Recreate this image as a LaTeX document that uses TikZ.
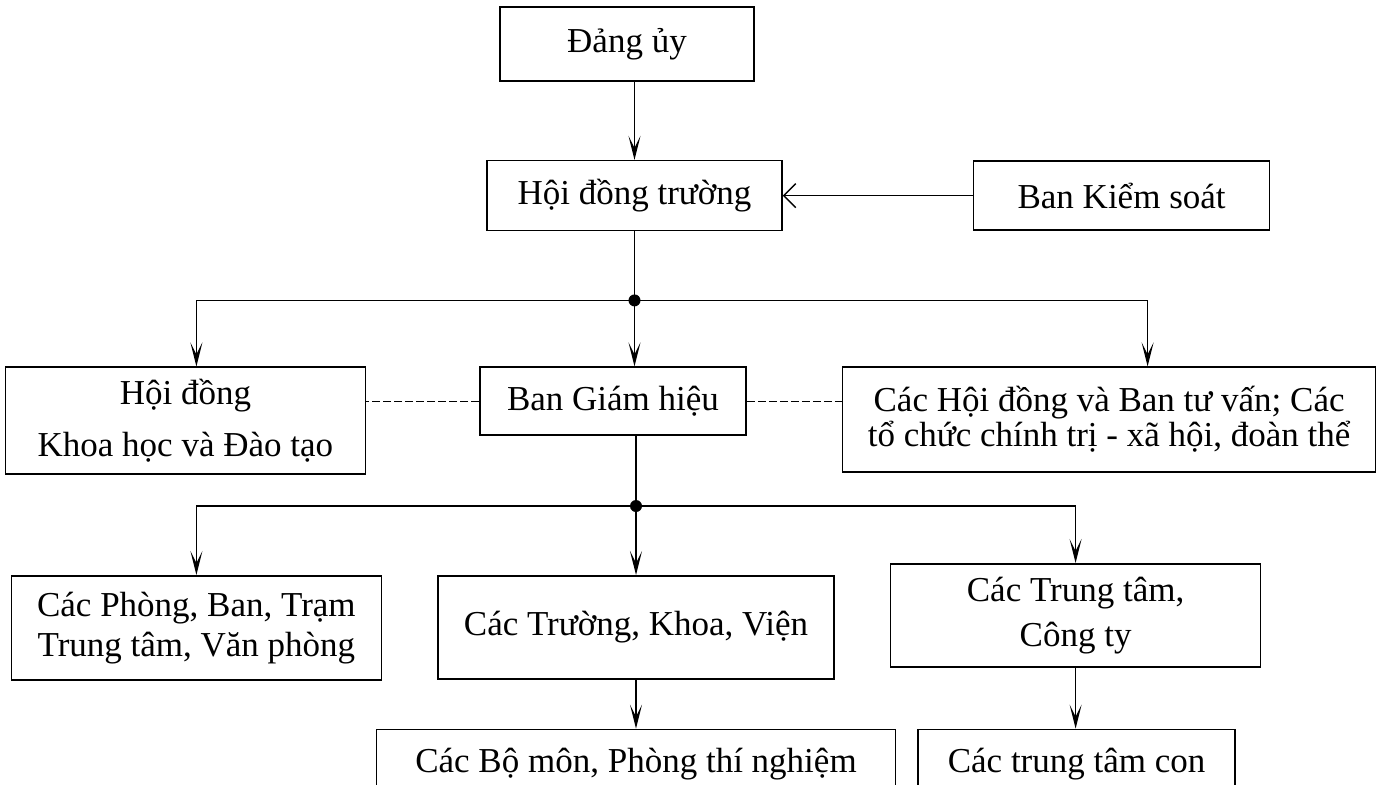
\documentclass[tikz,border=0pt]{standalone}
\usepackage{fontspec}
\setmainfont{Liberation Serif}
\usetikzlibrary{positioning, arrows.meta}

\begin{document}
\begin{tikzpicture}[x=0.5pt, y=-0.5pt,
        box/.style = {draw, black, line width=0.8pt, inner sep=0pt, align=center, font=\fontsize{17.5}{21}\selectfont},%
        arrow/.style = {-{Stealth[length=12pt, width=6pt, inset=6pt]}, line width=0.7pt},%
        sidearrow/.style = {-{Straight Barb[length=6pt, width=12pt]}, line width=0.7pt},%
        link/.style = {line width=0.7pt, dash pattern=on 4pt off 1.5pt}%
    ]%
        \useasboundingbox (0,0) rectangle (1377,784);
        \node[box, minimum width=127pt, minimum height=37pt] (dang) at (627,44) {Đảng ủy};
        \node[box, minimum width=147.5pt, minimum height=35pt, below=39pt of dang, xshift=3.75pt] (hdt) {Hội đồng trường};
        \node[box, minimum width=148pt, minimum height=34.5pt, right=95pt of hdt] (bks) {Ban Kiểm soát};
        \node[box, minimum width=133pt, minimum height=34pt, below=67.5pt of hdt, xshift=-10.75pt] (bgh) {Ban Giám hiệu};
        \node[box, minimum width=180pt, minimum height=53.5pt, left=56.5pt of bgh.north west, anchor=north east] (hdkh) {Hội đồng\\[5pt] Khoa học và Đào tạo};
        \node[box, minimum width=266.5pt, minimum height=52.5pt, right=47.5pt of bgh.north east, anchor=north west] (cachd) {Các Hội đồng và Ban tư vấn; Các\\[-3.5pt] tổ chức chính trị - xã hội, đoàn thể};
        \node[box, minimum width=198pt, minimum height=51.5pt, below=69.5pt of bgh, xshift=11.5pt] (truong) {Các Trường, Khoa, Viện};
        \node[box, minimum width=185pt, minimum height=52pt, left=27.5pt of truong.north west, anchor=north east] (phong) {Các Phòng, Ban, Trạm\\[-1pt] Trung tâm, Văn phòng};
        \node[box, minimum width=185pt, minimum height=51.5pt, right=27.5pt of truong.north east, anchor=north west, yshift=6pt] (trungtam) {Các Trung tâm,\\[1.5pt] Công ty};
        \node[box, minimum width=259.5pt, minimum height=35pt, below=24.5pt of truong] (bomon) {Các Bộ môn, Phòng thí nghiệm};
        \node[box, minimum width=158.5pt, minimum height=35pt, right=10.5pt of bomon.north east, anchor=north west] (ttcon) {Các trung tâm con};
        % junctions
        \coordinate[below=34.5pt of hdt] (j1);
        \coordinate (j2) at ([yshift=-35pt]bgh.south -| truong.north);
        % connectors
        \draw[arrow] (hdt.north |- dang.south) -- (hdt.north);
        \draw[sidearrow] (bks.west) -- (hdt.east);
        \draw[line width=0.7pt] (hdt) -- (j1);
        \draw[arrow] (j1) -| ([xshift=5.5pt]hdkh.north);
        \draw[arrow] (j1) -- (j1 |- bgh.north);
        \draw[arrow] (j1) -| ([xshift=19.25pt]cachd.north);
        \draw[link] (bgh.west) -- (bgh.west -| hdkh.east);
        \draw[link] (bgh.east) -- (bgh.east -| cachd.west);
        \draw[line width=0.7pt] (bgh.south -| j2) -- (j2);
        \draw[arrow] (j2) -| (phong.north);
        \draw[arrow] (j2) -- (truong.north);
        \draw[arrow] (j2) -| (trungtam.north);
        \draw[arrow] (truong) -- (bomon);
        \draw[arrow] (trungtam) -- (trungtam |- ttcon.north);
        \fill (j1) circle (3pt);
        \fill (j2) circle (3pt);
    \end{tikzpicture}
\end{document}
